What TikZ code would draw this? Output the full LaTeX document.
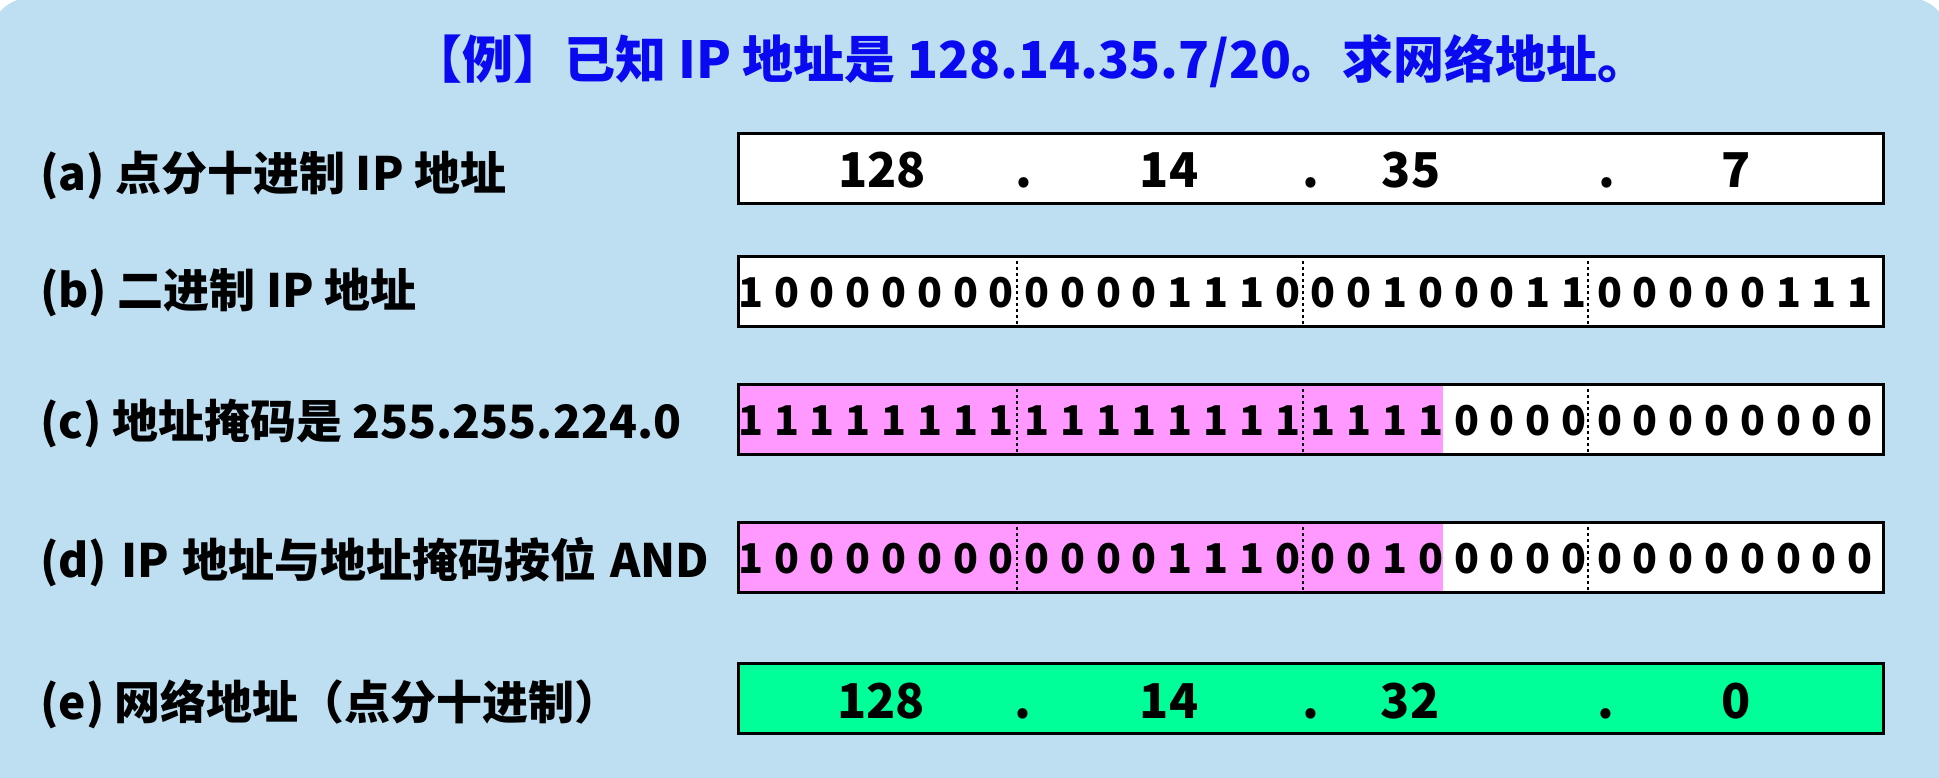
\documentclass[tikz,border=0pt]{standalone}
\usepackage{fontspec}
\setmainfont{Noto Sans CJK SC}
\definecolor{bg}{RGB}{190,222,242}
\definecolor{pinkf}{RGB}{255,153,255}
\definecolor{greenf}{RGB}{0,255,153}
\definecolor{titleblue}{RGB}{10,10,240}
\begin{document}
\begin{tikzpicture}[x=1pt,y=-1pt,
  box/.style={draw=black,line width=2.8pt,minimum width=1145pt,minimum height=70pt,inner sep=0pt,anchor=north west},
  lbl/.style={anchor=base west,font=\fontsize{46}{50}\selectfont\bfseries,inner sep=0pt},
  bit/.style={anchor=base,font=\fontsize{41}{41}\selectfont\bfseries,inner sep=0pt},
  dec/.style={anchor=base,font=\fontsize{48}{48}\selectfont\bfseries,inner sep=0pt},
  sepline/.style={draw=black,line width=2.6pt,dash pattern=on 3pt off 3pt},
  ttl/.style={anchor=base,font=\fontsize{51}{54}\selectfont\bfseries,text=titleblue,inner sep=0pt}]
\useasboundingbox (0,0) rectangle (1939,777);
\fill[white] (0,0) rectangle (1939,777);
\fill[bg,rounded corners=40pt] (-10,-2) rectangle (1949,820);

% title
\node[ttl] (title) at (1030,78) {【例】已知 IP 地址是 128.14.35.7/20。求网络地址。};

% labels
\node[lbl] (la) at (40,190) {(a) 点分十进制 IP 地址};
\node[lbl] (lb) at (40,307) {(b) 二进制 IP 地址};
\node[lbl] (lc) at (40,438) {(c) 地址掩码是 255.255.224.0};
\node[lbl] (ld) at (40,577) {(d)\hspace{0.3em}IP\hspace{0.3em}地址与地址掩码按位\hspace{0.3em}AND};
\node[lbl] (le) at (40,719) {(e) 网络地址（点分十进制）};

% fills
\fill[white] (737,132) rectangle (1882,202);
\fill[white] (737,255) rectangle (1882,325);
\fill[white] (737,383) rectangle (1882,453);
\fill[pinkf] (737,383) rectangle (1443,453);
\fill[white] (737,521) rectangle (1882,591);
\fill[pinkf] (737,521) rectangle (1443,591);
\fill[greenf] (737,662) rectangle (1882,732);

% dividers
\foreach \t in {255,383,521}{
  \foreach \x in {1017,1303,1588}{
    \draw[sepline] (\x,\t) -- (\x,\t+70);
  }
}

% boxes
\node[box] (ba) at (737,132) {};
\node[box] (bb) at (737,255) {};
\node[box] (bc) at (737,383) {};
\node[box] (bd) at (737,521) {};
\node[box] (be) at (737,662) {};

% dotted decimal row a
\node[dec] (a1) at (882,187) {128};
\node[dec] (ad1) at (1024,187) {.};
\node[dec] (a2) at (1169,187) {14};
\node[dec] (ad2) at (1311,187) {.};
\node[dec] (a3) at (1411,187) {35};
\node[dec] (ad3) at (1607,187) {.};
\node[dec] (a4) at (1736,187) {7};

% row e
\node[dec] (e1) at (881,718) {128};
\node[dec] (ed1) at (1023,718) {.};
\node[dec] (e2) at (1169,718) {14};
\node[dec] (ed2) at (1311,718) {.};
\node[dec] (e3) at (1410,718) {32};
\node[dec] (ed3) at (1606,718) {.};
\node[dec] (e4) at (1736,718) {0};

% bits
\foreach \b [count=\i from 0] in {1,0,0,0,0,0,0,0, 0,0,0,0,1,1,1,0, 0,0,1,0,0,0,1,1, 0,0,0,0,0,1,1,1}{
  \node[bit] (b\i) at ({737+35.78*(\i+0.5)-4},307) {\b};
}
\foreach \b [count=\i from 0] in {1,1,1,1,1,1,1,1, 1,1,1,1,1,1,1,1, 1,1,1,1,0,0,0,0, 0,0,0,0,0,0,0,0}{
  \node[bit] (c\i) at ({737+35.78*(\i+0.5)-4},435) {\b};
}
\foreach \b [count=\i from 0] in {1,0,0,0,0,0,0,0, 0,0,0,0,1,1,1,0, 0,0,1,0,0,0,0,0, 0,0,0,0,0,0,0,0}{
  \node[bit] (d\i) at ({737+35.78*(\i+0.5)-4},573) {\b};
}
\end{tikzpicture}
\end{document}
